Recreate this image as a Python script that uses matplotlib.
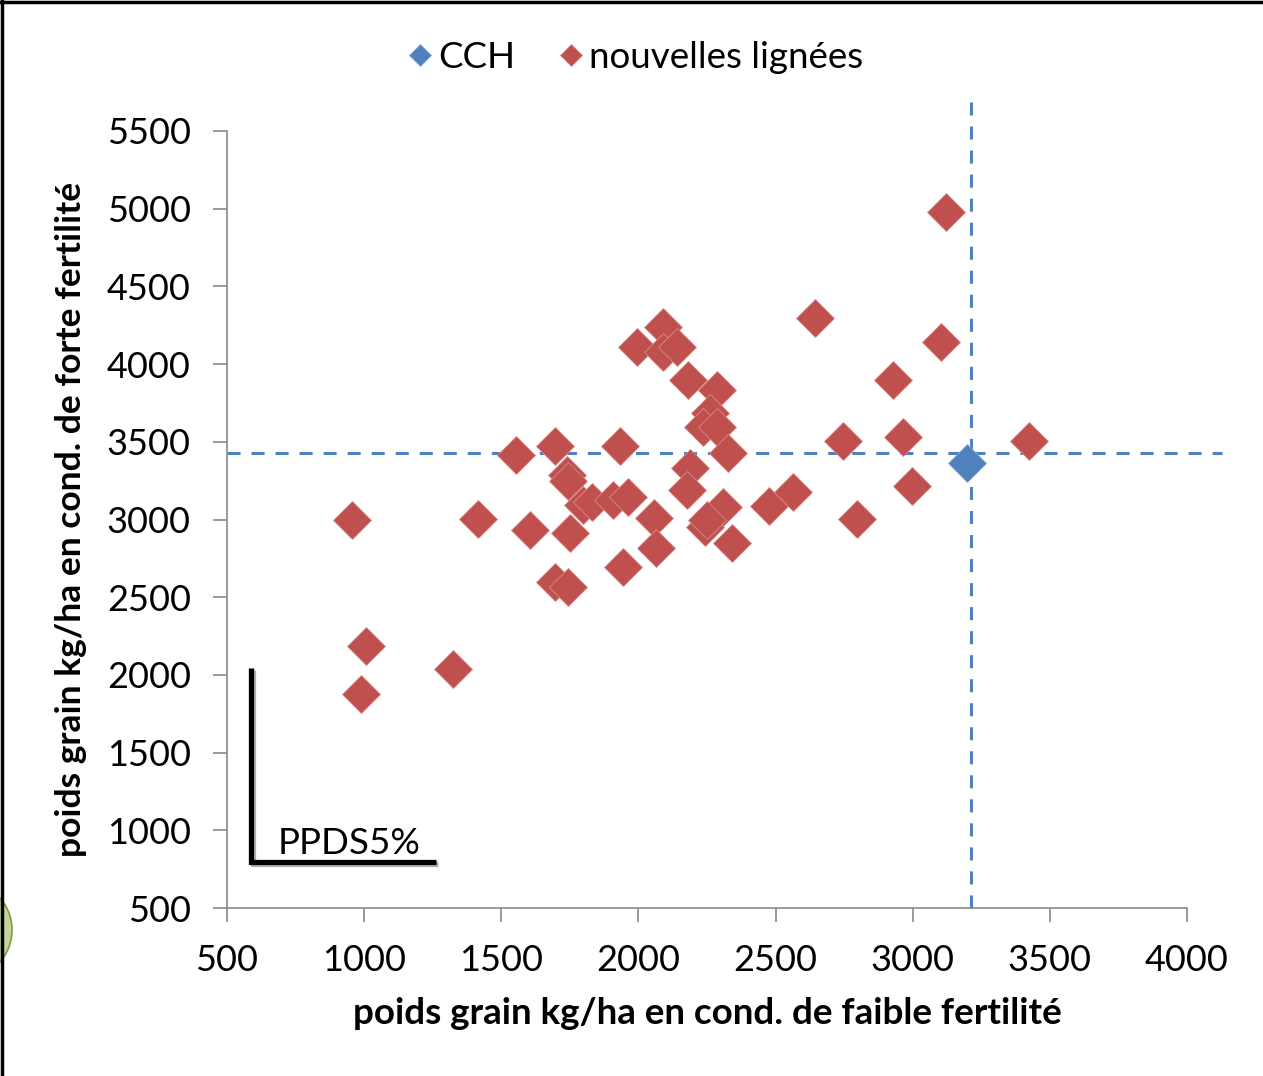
import matplotlib
matplotlib.use("Agg")
import matplotlib.pyplot as plt
import matplotlib.patheffects as pe
from matplotlib.patches import Ellipse
from matplotlib.lines import Line2D

plt.rcParams['font.family'] = ['Lato', 'DejaVu Sans']
plt.rcParams['lines.scale_dashes'] = False

# Data
cch_x = [3198]
cch_y = [3364]

nl_x = [956, 1007, 989, 1324, 1415, 1554, 1605, 1696, 1740, 1743, 1798, 1830,
        1750, 1696, 1743, 1933, 1907, 1962, 2057, 2064, 1944, 1995, 2090, 2090,
        2141, 2181, 2286, 2261, 2235, 2286, 2327, 2188, 2177, 2308, 2243, 2250,
        2341, 2476, 2564, 2644, 2746, 2797, 2928, 2965, 2997, 3103, 3121, 3424]
nl_y = [2997, 2186, 1877, 2038, 3003, 3415, 2932, 3473, 3286, 3248, 3093, 3110,
        2913, 2598, 2566, 3473, 3125, 3145, 3010, 2817, 2694, 4110, 4239, 4078,
        4110, 3898, 3833, 3685, 3595, 3595, 3428, 3331, 3190, 3080, 2952, 2997,
        2849, 3087, 3177, 4297, 3505, 3003, 3898, 3531, 3216, 4142, 4979, 3505]

ref_x = 3213   # vertical reference line
ref_y = 3428   # horizontal reference line

xticks = [500, 1000, 1500, 2000, 2500, 3000, 3500, 4000]
yticks = [500, 1000, 1500, 2000, 2500, 3000, 3500, 4000, 4500, 5000, 5500]

blue = '#4F81BD'
red = '#C0504D'

fig = plt.figure(figsize=(12.63, 10.76), dpi=100)
ax = fig.add_axes([227/1263, 1-908/1076, (1187-227)/1263, (908-131)/1076])
ax.set_xlim(500, 4000)
ax.set_ylim(500, 5500)

# reference lines
ax.plot([500, 4128], [ref_y, ref_y], color=blue, lw=2.2, dashes=(9.4, 7.9),
        clip_on=False, zorder=2)
ax.plot([ref_x, ref_x], [500, 5700], color=blue, lw=2.2, dashes=(9.4, 7.9),
        clip_on=False, zorder=2)

ax.plot(nl_x, nl_y, linestyle='none', marker='D', ms=19, color=red,
        mec='#d98a88', mew=0.6, label='nouvelles lignées', zorder=3, clip_on=False)
ax.plot(cch_x, cch_y, linestyle='none', marker='D', ms=19, color=blue,
        mec='#8aaad6', mew=0.6, label='CCH', zorder=4, clip_on=False)

# PPDS bracket
shadow = [pe.SimpleLineShadow(offset=(1.5, -1.5), shadow_color='gray', alpha=0.6), pe.Normal()]
ax.plot([588, 588, 1262], [2044, 796, 796], color='black', lw=3.8,
        solid_joinstyle='miter', solid_capstyle='butt', path_effects=shadow, zorder=5)
ax.text(683, 850, 'PPDS5%', fontsize=26.5, ha='left', va='baseline', zorder=5)

for s in ['top', 'right']:
    ax.spines[s].set_visible(False)
for s in ['left', 'bottom']:
    ax.spines[s].set_color('#898989')
    ax.spines[s].set_linewidth(1.2)
ax.set_xticks(xticks)
ax.set_yticks(yticks)
ax.set_xticklabels([str(v) for v in xticks])
ax.set_yticklabels([str(v) for v in yticks])
ax.tick_params(axis='both', direction='out', length=10, width=1.2, color='#898989',
               labelsize=26, labelcolor='black')
ax.tick_params(axis='x', pad=16)
ax.tick_params(axis='y', pad=16)

ax.set_xlabel('poids grain kg/ha en cond. de faible fertilité', fontsize=26.5,
              fontweight='bold', labelpad=14)
ax.set_ylabel('poids grain kg/ha en cond. de forte fertilité', fontsize=25.5,
              fontweight='bold', labelpad=14)

h, l = ax.get_legend_handles_labels()
leg = fig.legend([h[1], h[0]], [l[1], l[0]], loc='center', bbox_to_anchor=(636/1263, 1-57/1076),
                 ncol=2, frameon=False, fontsize=26.5, markerscale=0.6, handlelength=0.6,
                 handletextpad=0.2, columnspacing=1.2)

# figure border (top and left only) and decoration
fig.add_artist(Line2D([0, 1], [1-2/1076, 1-2/1076], transform=fig.transFigure,
                      color='black', lw=2.5))
fig.add_artist(Line2D([2.5/1263, 2.5/1263], [0, 1], transform=fig.transFigure,
                      color='black', lw=2.5))
fig.patches.append(Ellipse((-35/1263, 1-930/1076), 94/1263, 96/1076, transform=fig.transFigure,
                           facecolor='#c3d69b', edgecolor='#7f9a48', lw=1.2))

fig.savefig('out.png', dpi=100)
